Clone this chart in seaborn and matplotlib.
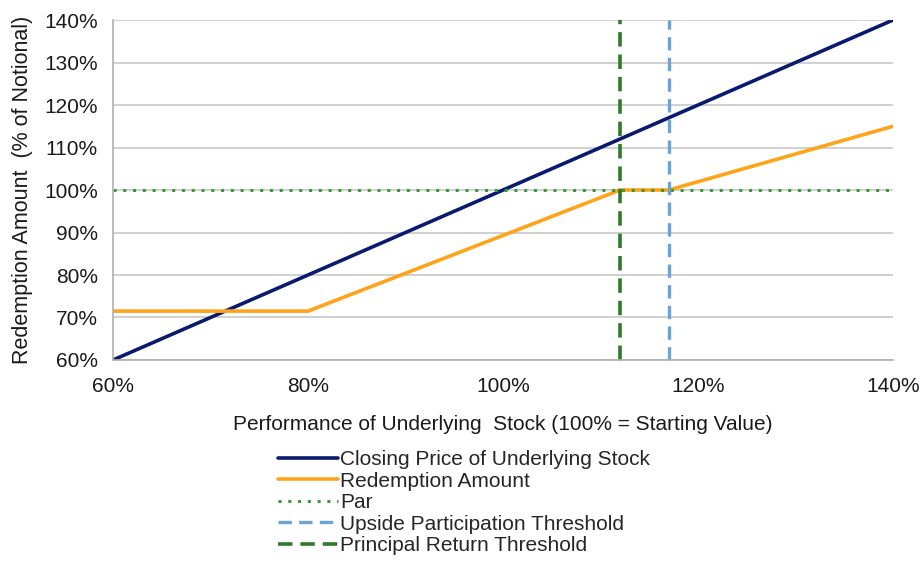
import matplotlib
matplotlib.use("Agg")
import matplotlib.pyplot as plt
import seaborn as sns
import pandas as pd
from matplotlib.ticker import FuncFormatter

sns.set_theme(style="white")
plt.rcParams['font.family'] = ['Liberation Sans', 'DejaVu Sans']

# Data (percent)
stock_x = [60, 140]
stock_y = [60, 140]
redemption_x = [60, 80, 112, 117, 140]
redemption_y = [71.5, 71.5, 100, 100, 115]
par_level = 100
upside_threshold = 117
principal_threshold = 112

fig = plt.figure(figsize=(9.24, 5.61), dpi=100)
ax = fig.add_axes([0.1223, 0.3583, 0.8442, 0.606])

df_stock = pd.DataFrame({"x": stock_x, "y": stock_y})
df_red = pd.DataFrame({"x": redemption_x, "y": redemption_y})

ax.set_xlim(60, 140)
ax.set_ylim(60, 140)
ax.set_yticks(range(60, 141, 10))
ax.set_xticks(range(60, 141, 20))
ax.yaxis.grid(True, color="#c8c8c8", linewidth=1.2)
ax.set_axisbelow(True)

sns.lineplot(data=df_stock, x="x", y="y", ax=ax, color="#0a1a6e", linewidth=2.6,
             label="Closing Price of Underlying Stock")
sns.lineplot(data=df_red, x="x", y="y", ax=ax, color="#ffa31a", linewidth=2.6,
             label="Redemption Amount")
ax.axhline(par_level, color="#3a9a3a", linewidth=2.2, linestyle=(0, (1, 2.2)), label="Par")
ax.axvline(upside_threshold, color="#6aa5d8", linewidth=2.4, linestyle=(0, (4, 2.2)),
           label="Upside Participation Threshold")
ax.axvline(principal_threshold, color="#2f7a2a", linewidth=2.6, linestyle=(0, (4, 2.2)),
           label="Principal Return Threshold")

fmt = FuncFormatter(lambda v, p: f"{int(round(v))}%")
ax.xaxis.set_major_formatter(fmt)
ax.yaxis.set_major_formatter(fmt)
ax.tick_params(axis="both", labelsize=15, colors="#1a1a1a")
ax.tick_params(axis="y", length=7, direction="out", color="#c0c0c0", width=1.2, pad=4)
ax.tick_params(axis="x", length=5, direction="out", color="#c0c0c0", width=1.2, pad=7)

for s in ["top", "right"]:
    ax.spines[s].set_visible(False)
for s in ["left", "bottom"]:
    ax.spines[s].set_color("#b0b0b0")
    ax.spines[s].set_linewidth(1.2)

ax.set_xlabel("Performance of Underlying  Stock (100% = Starting Value)", fontsize=15,
              color="#1a1a1a", labelpad=14)
ax.set_ylabel("Redemption Amount  (% of Notional)", fontsize=15.5, color="#1a1a1a", labelpad=8)

handles, labels = ax.get_legend_handles_labels()
if ax.get_legend():
    ax.get_legend().remove()
fig.legend(handles, labels, loc="upper left", bbox_to_anchor=(0.29, 0.216),
           frameon=False, fontsize=15, handlelength=2.85, handletextpad=0.1,
           labelspacing=0.12, borderpad=0)

fig.savefig("out.png", dpi=100, facecolor="white")
